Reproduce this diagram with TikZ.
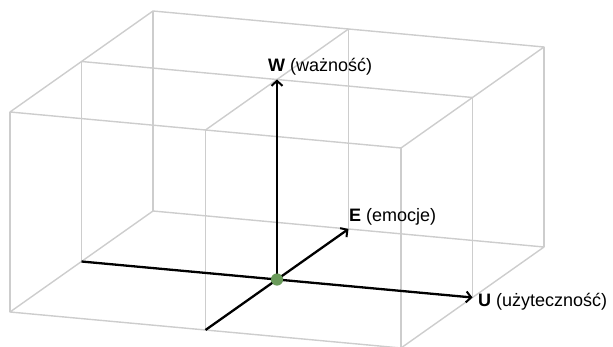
\documentclass[tikz,border=0pt]{standalone}
\usepackage{fontspec}
\setmainfont{Liberation Sans}
\usetikzlibrary{arrows.meta}
\definecolor{gridgray}{RGB}{205,205,205}
\definecolor{dotgreen}{RGB}{106,154,90}
\begin{document}
\begin{tikzpicture}[x=1pt,y=-1pt,
  grid/.style={draw=gridgray, line width=1.4pt, line join=round},
  axis/.style={draw=black, line width=2.3pt},
  axisarrow/.style={axis, -{Straight Barb[length=5pt,width=11pt,line width=2pt]}},
  lbl/.style={anchor=base west, inner sep=0pt, font=\fontsize{18}{21}\selectfont},
  dot/.style={circle, fill=dotgreen, inner sep=0pt, minimum size=12pt}]
\useasboundingbox (0,0) rectangle (613,347);

% top face of the box
\coordinate (tfl) at (10,112);
\coordinate (tfr) at (401,148);
\coordinate (tbr) at (544,47);
\coordinate (tbl) at (153,11);
\coordinate (tfm) at (205.5,130);
\coordinate (tbm) at (348.5,29);
\coordinate (tlm) at (81.5,61.5);
\coordinate (trm) at (472.5,97.5);
\coordinate (tc)  at (277,79.5);

% bottom face of the box (200 below)
\coordinate (bfl) at (10,312);
\coordinate (bfr) at (401,348);
\coordinate (bbr) at (544,247);
\coordinate (bbl) at (153,211);
\coordinate (bfm) at (205.5,330);
\coordinate (bbm) at (348.5,229);
\coordinate (blm) at (81.5,261.5);
\coordinate (brm) at (472.5,297.5);

% wireframe
\draw[grid] (tfl) -- (tfr) -- (tbr) -- (tbl) -- cycle;
\draw[grid] (tfm) -- (tbm);
\draw[grid] (tlm) -- (trm);
\draw[grid] (bfl) -- (bfr) -- (bbr) -- (bbl) -- cycle;
\foreach \c in {fl,fr,br,bl,fm,bm,lm,rm}
  \draw[grid] (t\c) -- (b\c);

% origin of the three axes
\node[dot] (origin) at (277,279.5) {};

% axes
\draw[axis] (blm) -- (origin.center);
\draw[axisarrow] (origin.center) -- (brm);
\draw[axis] (bfm) -- (origin.center);
\draw[axisarrow] (origin.center) -- (bbm);
\draw[axisarrow] (origin.center) -- (tc);
\node[dot] (origindot) at (origin) {};

% axis labels
\node[lbl] (wlabel) at (268,72) {\textbf{W} (ważność)};
\node[lbl] (elabel) at (349,222) {\textbf{E} (emocje)};
\node[lbl] (ulabel) at (478,306) {\textbf{U} (użyteczność)};
\end{tikzpicture}
\end{document}
